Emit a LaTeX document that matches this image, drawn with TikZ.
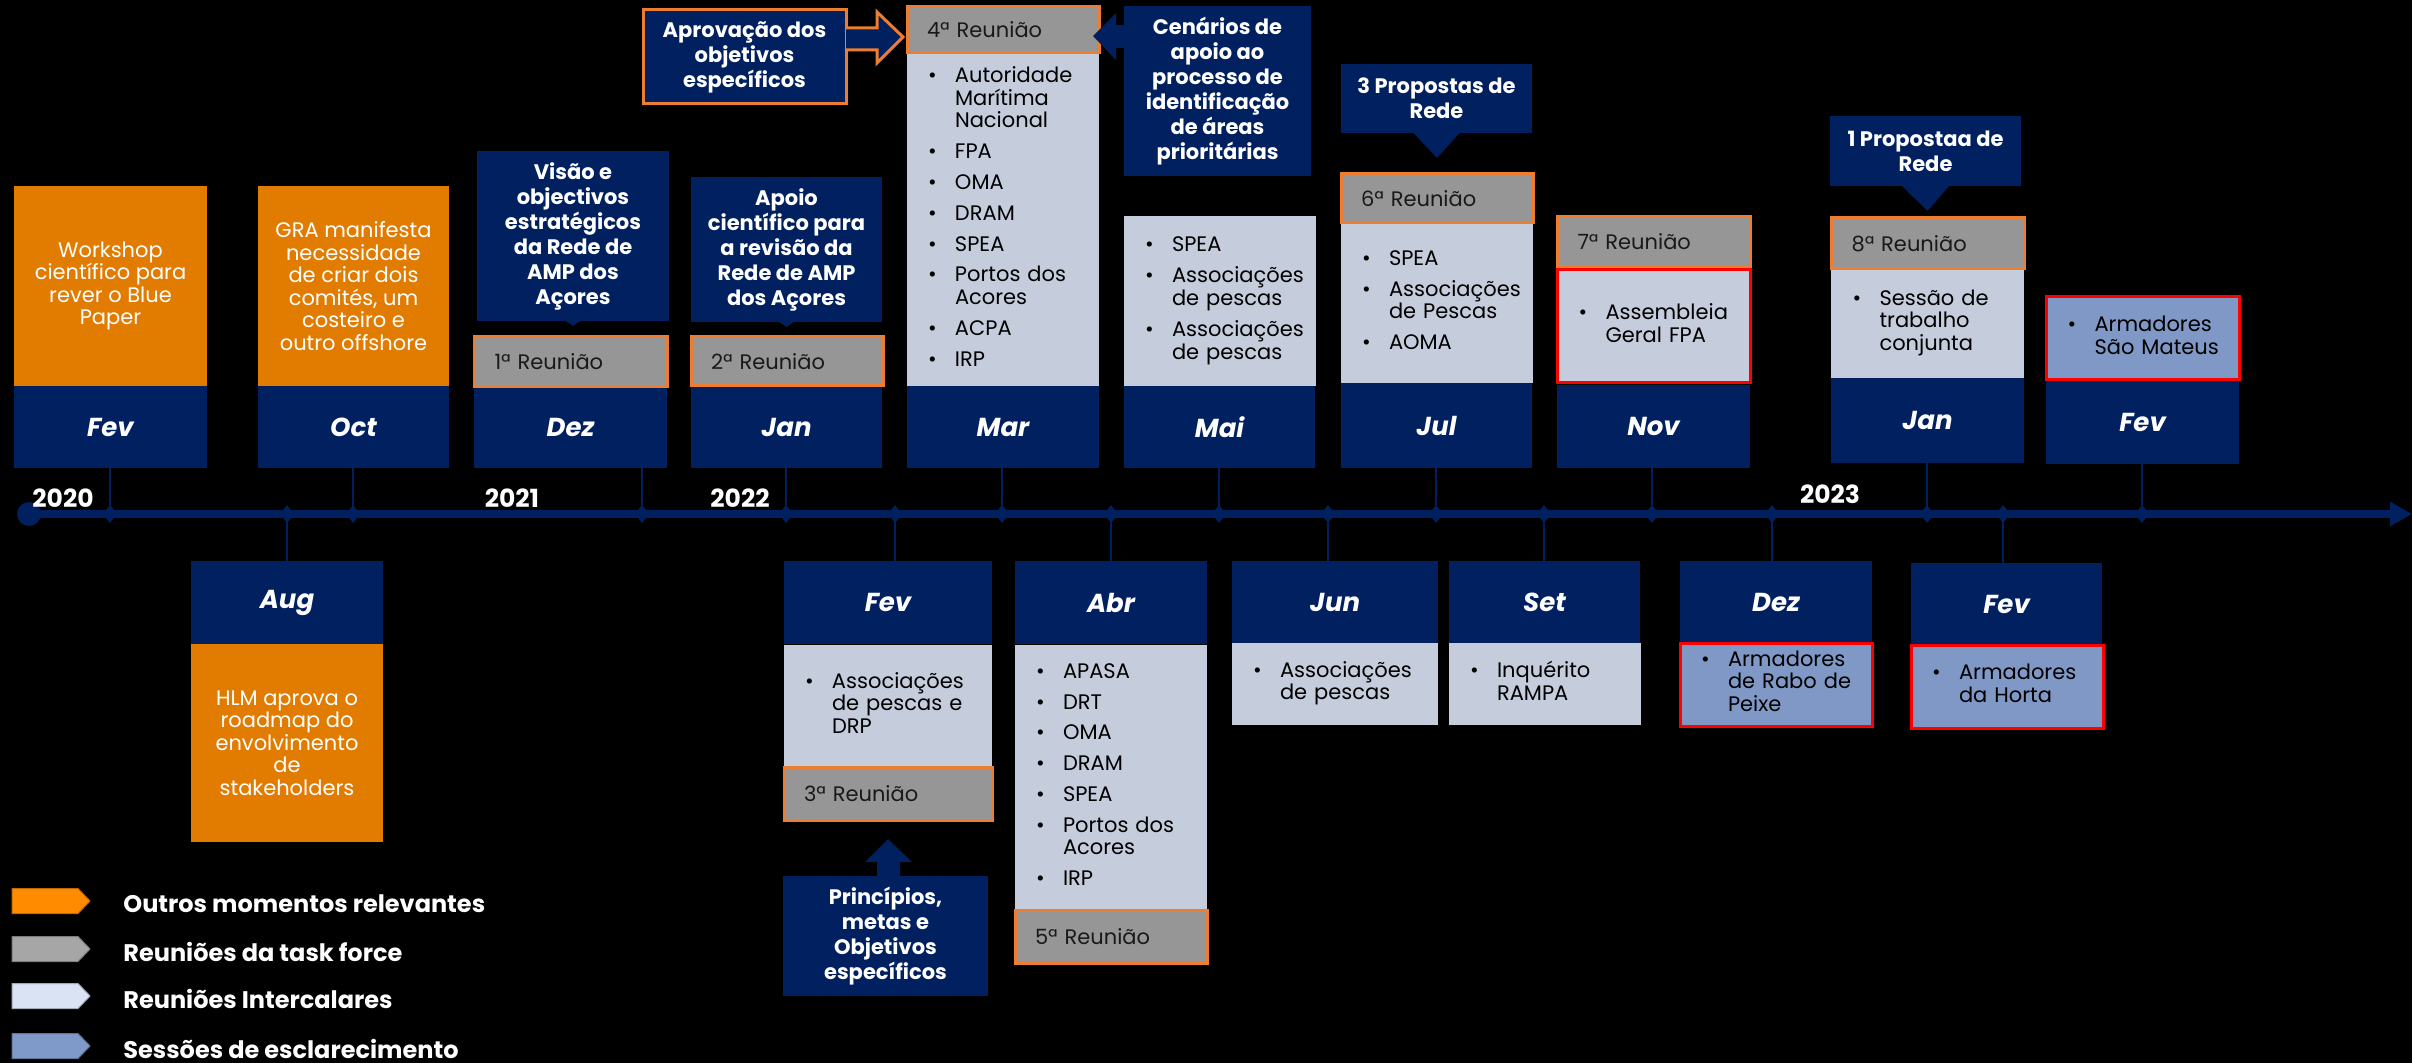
\documentclass[tikz,border=0pt]{standalone}
\usepackage{fontspec}
\setmainfont{Poppins}
\usetikzlibrary{arrows.meta,calc}

\definecolor{navy}{HTML}{002060}
\definecolor{orangefill}{HTML}{E17C00}
\definecolor{orangeline}{HTML}{ED7D31}
\definecolor{grayfill}{HTML}{969696}
\definecolor{lightfill}{HTML}{C5CCDC}
\definecolor{bluefill}{HTML}{7F98C6}
\definecolor{legorange}{HTML}{FF8C00}
\definecolor{leggray}{HTML}{A6A6A6}
\definecolor{leglight}{HTML}{DAE3F3}
\definecolor{legblue}{HTML}{7F99C9}

\newcommand{\bodyfont}{\fontsize{10.5}{11.3}\selectfont}
\newcommand{\calloutfont}{\bfseries\fontsize{10.5}{12.5}\selectfont}
\newcommand{\monthfont}{\bfseries\itshape\fontsize{13}{15}\selectfont}
\newcommand{\yearfont}{\bfseries\fontsize{12.5}{14}\selectfont}
\newcommand{\legendfont}{\bfseries\fontsize{12}{14}\selectfont}
% one bullet item of a list box
\newcommand{\itm}[1]{\noindent\makebox[13.5pt][l]{\textbullet}\begin{tabular}[t]{@{}l@{}}#1\end{tabular}\par}

\tikzset{wh/.style 2 args={minimum width=#1*0.5pt, minimum height=#2*0.5pt}}
\tikzstyle{box}=[anchor=north west, inner sep=0pt, outer sep=0pt]
\tikzstyle{month}=[box, fill=navy, text=white, font=\monthfont]
\tikzstyle{orangebox}=[box, fill=orangefill, text=white, font=\bodyfont, align=center]
\tikzstyle{callout}=[box, fill=navy, text=white, font=\calloutfont, align=center]
\tikzstyle{reuniao}=[box, fill=grayfill, draw=orangeline, line width=1.5pt, text=black!90, font=\bodyfont, align=left, inner xsep=10pt, text width=76pt]
\tikzstyle{listbox}=[box, fill=lightfill, text=black, font=\bodyfont, align=left, inner xsep=10.5pt, text width=75pt,
    execute at begin node={\setlength{\parskip}{4.1pt}\setlength{\lineskip}{0pt}}]
\tikzstyle{redframe}=[draw=red, line width=1.5pt]
\tikzstyle{esclbox}=[listbox, fill=bluefill, redframe]
\tikzstyle{axisline}=[navy, line width=4pt, -{Triangle[length=11pt,width=11.5pt]}]
\tikzstyle{tick}=[navy, line width=0.75pt]
\tikzstyle{year}=[text=white, font=\yearfont, inner sep=0pt]
\tikzstyle{legendtext}=[anchor=west, text=white, font=\legendfont, inner sep=0pt]

\begin{document}
\begin{tikzpicture}[x=0.5pt, y=-0.5pt]
\fill[black] (0,0) rectangle (2412,1063);
\useasboundingbox (0,0) rectangle (2412,1063);

% time axis
\coordinate (axstart) at (29,514);
\coordinate (axend) at (2412,514);
\draw[axisline] (axstart) -- (axend);
\fill[navy] (axstart) circle (6pt);

\foreach \name/\x in {fevA/110, oct/353, dez/642, janA/786, mar/1002, mai/1219, jul/1436, nov/1652, janB/1927, fevB/2142,
    aug/287, fevC/895, abr/1111, jun/1328, set/1544, dezB/1772, fevD/2003}
  \coordinate (t\name) at (\x,514);

% months above the axis
\foreach \name/\x/\y/\w/\h/\lab in {fevA/14/386/193/82/Fev, oct/258/386/191/82/Oct, dez/474/386/193/82/Dez,
    janA/691/386/191/82/Jan, mar/907/386/192/82/Mar, mai/1124/386/191/82/Mai, jul/1341/383/191/85/Jul,
    nov/1557/385/193/83/Nov, janB/1831/378/193/85/Jan, fevB/2046/380/193/84/Fev}
  {
  \node[month, wh={\w}{\h}] (\name) at (\x,\y) {\lab};
  \draw[tick] (t\name) -- (\name.south -| t\name);
  }

% months below the axis
\foreach \name/\x/\y/\w/\lab in {aug/191/561/192/Aug, fevC/784/561/208/Fev, abr/1015/561/192/Abr,
    jun/1232/561/206/Jun, set/1449/561/191/Set, dezB/1680/561/192/Dez, fevD/1911/563/191/Fev}
  {
  \node[month, wh={\w}{83}] (\name) at (\x,\y) {\lab};
  \draw[tick] (t\name) -- (\name.north -| t\name);
  }

\foreach \name in {fevA, oct, dez, janA, mar, mai, jul, nov, janB, fevB, aug, fevC, abr, jun, set, dezB, fevD}
  \fill[navy] (t\name) +(0,-9) -- +(7,0) -- +(0,9) -- +(-7,0) -- cycle;

\node[year] (y2020) at (63,498) {2020};
\node[year] (y2021) at (512,498) {2021};
\node[year] (y2022) at (740,498) {2022};
\node[year] (y2023) at (1830,494) {2023};

% upper row
\node[orangebox, wh={193}{200}] (wsA) at (14,186) {Workshop\\científico para\\rever o Blue\\Paper};
\node[orangebox, wh={191}{200}] (gra) at (258,186) {GRA manifesta\\necessidade\\de criar dois\\comités, um\\costeiro e\\outro offshore};
\node[callout, wh={192}{170}] (visao) at (477,151) {Visão e\\objectivos\\estratégicos\\da Rede de\\AMP dos\\Açores};
\node[callout, wh={191}{145}] (apoio) at (691,177) {Apoio\\científico para\\a revisão da\\Rede de AMP\\dos Açores};
\node[callout, draw=orangeline, line width=1.5pt, wh={203}{94}] (aprov) at (643,10) {Aprovação dos\\objetivos\\específicos};
\node[listbox, wh={192}{333}] (lmar) at (907,53) {\itm{Autoridade\\Marítima\\Nacional}\itm{FPA}\itm{OMA}\itm{DRAM}\itm{SPEA}\itm{Portos dos\\Acores}\itm{ACPA}\itm{IRP}};
\node[callout, wh={187}{170}] (cen) at (1124,6) {Cenários de\\apoio ao\\processo de\\identificação\\de áreas\\prioritárias};
\node[listbox, wh={191}{170}] (lmai) at (1124,216) {\itm{SPEA}\itm{Associações\\de pescas}\itm{Associações\\de pescas}};
\node[callout, wh={191}{69}] (prop3) at (1341,64) {3 Propostas de\\Rede};
\node[listbox, wh={191}{160}] (ljul) at (1341,223) {\itm{SPEA}\itm{Associações\\de Pescas}\itm{AOMA}};
\node[listbox, redframe, wh={193}{113}] (lnov) at (1557,270) {\itm{Assembleia\\Geral FPA}};
\node[callout, wh={191}{70}] (prop1) at (1830,116) {1 Propostaa de\\Rede};
\node[listbox, wh={193}{109}] (ljanB) at (1831,269) {\itm{Sessão de\\trabalho\\conjunta}};
\node[esclbox, wh={193}{83}] (lfevB) at (2046,297) {\itm{Armadores\\São Mateus}};

\node[reuniao, wh={193}{50}] (reu1) at (474,337) {1ª Reunião};
\node[reuniao, wh={191}{49}] (reu2) at (691,337) {2ª Reunião};
\node[reuniao, wh={192}{46}] (reu4) at (907,7) {4ª Reunião};
\node[reuniao, wh={191}{49}] (reu6) at (1341,174) {6ª Reunião};
\node[reuniao, wh={193}{50}] (reu7) at (1557,217) {7ª Reunião};
\node[reuniao, wh={193}{51}] (reu8) at (1831,218) {8ª Reunião};

% lower row
\node[orangebox, wh={192}{198}] (hlm) at (191,644) {HLM aprova o\\roadmap do\\envolvimento\\de\\stakeholders};
\node[listbox, text width=83pt, wh={208}{122}] (lfevC) at (784,645) {\itm{Associações\\de pescas e\\DRP}};
\node[callout, wh={205}{120}] (princ) at (783,876) {Princípios,\\metas e\\Objetivos\\específicos};
\node[listbox, wh={192}{265}] (labr) at (1015,645) {\itm{APASA}\itm{DRT}\itm{OMA}\itm{DRAM}\itm{SPEA}\itm{Portos dos\\Acores}\itm{IRP}};
\node[listbox, text width=82pt, wh={206}{82}] (ljun) at (1232,643) {\itm{Associações\\de pescas}};
\node[listbox, wh={191}{82}] (lset) at (1449,643) {\itm{Inquérito\\RAMPA}};
\node[esclbox, wh={192}{83}] (ldezB) at (1680,643) {\itm{Armadores\\de Rabo de\\Peixe}};
\node[esclbox, wh={191}{83}] (lfevD) at (1911,645) {\itm{Armadores\\da Horta}};

\node[reuniao, text width=84pt, wh={208}{53}] (reu3) at (784,767) {3ª Reunião};
\node[reuniao, wh={192}{53}] (reu5) at (1015,910) {5ª Reunião};

% pointers of the callouts
\coordinate (aptip) at ($(reu4.west)+(-4,7)$);
\filldraw[fill=navy, draw=orangeline, line width=1.5pt] (aprov.north east) ++(0,18) -- ++(31,0) -- ++(0,-16) -- (aptip) -- ++(-26,26) -- ++(0,-13) -- ++(-31,0);
\coordinate (centip) at ($(reu4.east)+(-6,6)$);
\fill[navy] (cen.north west) ++(0,19) -- ++(-8,0) -- ++(0,-12) -- (centip) -- ++(23,24) -- ++(0,-12) -- ++(8,0) -- cycle;
\fill[navy] ([xshift=-11.5pt]prop3.south) -- ([xshift=11.5pt]prop3.south) -- ($(reu6.north)+(0,-16)$) -- cycle;
\fill[navy] ([xshift=-11.75pt]prop1.south) -- ([xshift=11.75pt]prop1.south) -- ($(reu8.north)+(0,-7)$) -- cycle;
\fill[navy] ([xshift=-3.5pt]visao.south) -- ([xshift=3.5pt]visao.south) -- ([yshift=-2.5pt]visao.south) -- cycle;
\fill[navy] ([xshift=-3.5pt]apoio.south) -- ([xshift=3.5pt]apoio.south) -- ([yshift=-2.5pt]apoio.south) -- cycle;
\coordinate (prtip) at ($(reu3.south)+(0,19)$);
\fill[navy] (prtip) -- ++(24,23) -- ++(-12,0) -- ++(0,14) -- ++(-23,0) -- ++(0,-14) -- ++(-12,0) -- cycle;

% legend
\foreach \y/\col/\txt in {901/legorange/Outros momentos relevantes, 949/leggray/Reuniões da task force,
    996/leglight/Reuniões Intercalares, 1046/legblue/Sessões de esclarecimento}
  {
  \filldraw[fill=\col, draw=\col!75!black, line width=0.5pt] (12,\y-12.5) -- (78,\y-12.5) -- (90,\y) -- (78,\y+12.5) -- (12,\y+12.5) -- cycle;
  \node[legendtext] (leg\y) at (123,\y+3) {\txt};
  }
\end{tikzpicture}
\end{document}
